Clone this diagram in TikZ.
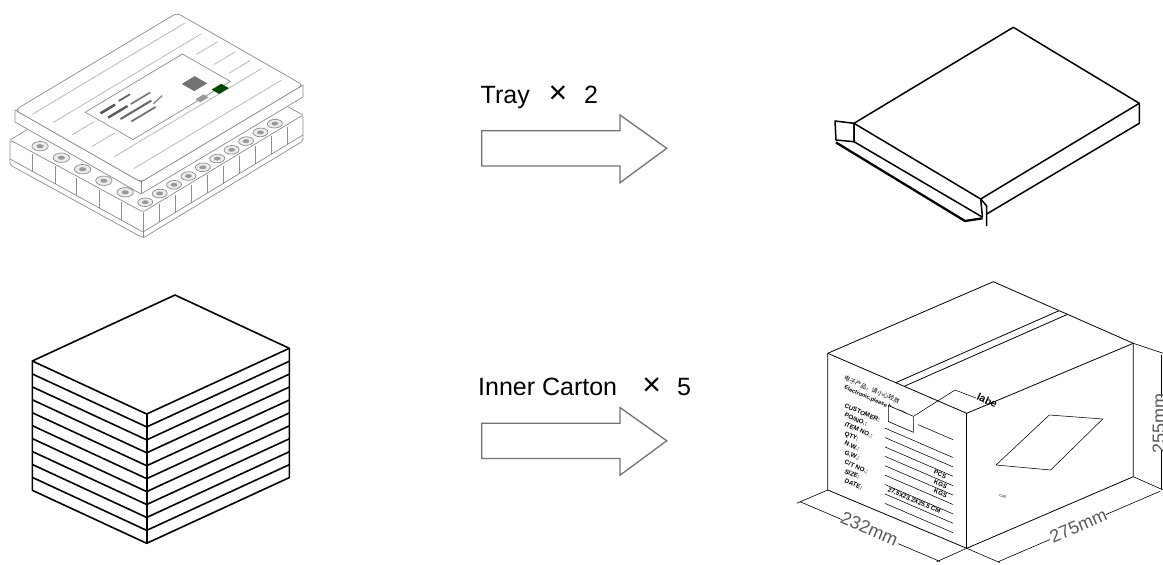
\documentclass[tikz,border=0pt]{standalone}
\usepackage{fontspec}
\setmainfont{Liberation Sans}
\newfontfamily\cjkf{Noto Sans CJK SC}
\usetikzlibrary{calc}
\begin{document}
\begin{tikzpicture}[x=1pt,y=-1pt,
  thickline/.style={line width=1.5pt, line join=round},
  stackline/.style={line width=1.6pt, line join=round},
  cartonline/.style={line width=0.8pt, line join=round},
  dimline/.style={line width=0.6pt},
  trayline/.style={draw=black!45, line width=0.7pt, line join=round},
  arrowshape/.style={draw=black!55, line width=1.3pt, fill=white, line join=miter},
  bigtext/.style={font=\fontsize{25}{30}\selectfont, inner sep=0pt},
  crosstext/.style={font=\fontsize{32}{36}\selectfont, inner sep=0pt},
  labtext/.style={font=\fontsize{6.3}{7}\selectfont\bfseries, inner sep=0pt, rotate=-23.35, anchor=north west},
  dimtext/.style={font=\fontsize{18}{20}\selectfont, text=black!65, inner sep=0pt},
]
\useasboundingbox (0,0) rectangle (1163,565);

% ================= tray picture (top left) =================
\coordinate (L) at (10,140);
\coordinate (F) at (143,212);
\coordinate (R) at (303,115);
\coordinate (K) at (170,43);
\coordinate (Lb) at (10,165);
\coordinate (Fb) at (143,238);
\coordinate (Rb) at (303,141);
\coordinate (Lr) at (10,159);
\coordinate (Fr) at (143,232);
\coordinate (Rr) at (303,135);
\filldraw[trayline, fill=white, rounded corners=2pt] (L)--(F)--(R)--(Rb)--(Fb)--(Lb)--cycle;
\draw[trayline] (L)--(K)--(R);
\draw[trayline] (F)--(Fb);
\draw[trayline] (Lr)--(Fr)--(Rr);
\foreach \t in {0.17,0.34,0.5,0.67,0.84}{
  \draw[trayline] ($(L)!\t!(F)+(0,2)$)--($(Lr)!\t!(Fr)$);
}
\foreach \t in {0.1,0.2,0.3,0.4,0.5,0.6,0.7,0.8,0.9}{
  \draw[trayline] ($(F)!\t!(R)+(0,2)$)--($(Fr)!\t!(Rr)$);
}
% pockets on the base top
\begin{scope}[shift={(10,140)}, x={(133pt,-72pt)}, y={(160pt,97pt)}]
  \foreach \u in {0.16,0.32,0.48,0.64,0.8}{
    \draw[trayline, fill=black!8] (\u,0.055) ellipse [x radius=0.045, y radius=0.035];
    \fill[black!40] (\u,0.055) ellipse [x radius=0.02, y radius=0.015];
  }
  \foreach \v in {0.06,0.15,0.24,0.33,0.42,0.51,0.6,0.69,0.78,0.87}{
    \draw[trayline, fill=black!8] (0.945,\v) ellipse [x radius=0.04, y radius=0.033];
    \fill[black!40] (0.945,\v) ellipse [x radius=0.018, y radius=0.015];
  }
\end{scope}
% lid sides
\filldraw[trayline, fill=white] (15,110)--(15,122)--(141,194)--(303,97)--(303,85)--(141,182)--cycle;
\draw[trayline] (141,182)--(141,194);
% lid top
\begin{scope}[shift={(15,110)}, x={(162pt,97pt)}, y={(126pt,-72pt)}]
  \filldraw[trayline, fill=white, rounded corners=4pt] (0,0)--(1,0)--(1,1)--(0,1)--cycle;
  \draw[trayline, black!30] (0.03,0.1)--(0.97,0.1);
  \draw[trayline, black!30] (0.05,0.24)--(0.96,0.24);
  \draw[trayline, black!30] (0.05,0.72)--(0.96,0.72);
  \draw[trayline, black!30] (0.05,0.88)--(0.96,0.88);
  \draw[trayline, black!30] (0.04,0.4)--(0.18,0.4);
  \draw[trayline, black!30] (0.04,0.56)--(0.18,0.56);
  \draw[trayline, black!30] (0.84,0.36)--(0.97,0.36);
  \draw[trayline, black!30] (0.84,0.5)--(0.97,0.5);
  \draw[trayline, black!30] (0.84,0.62)--(0.97,0.62);
  \draw[trayline] (0.2,0.3)--(0.8,0.3)--(0.8,0.68)--(0.2,0.68)--cycle;
  \draw[black!65, line width=2.6pt] (0.24,0.37)--(0.33,0.37);
  \draw[black!60, line width=1.8pt] (0.36,0.36)--(0.43,0.36);
  \draw[black!65, line width=2.4pt] (0.24,0.43)--(0.36,0.43);
  \draw[black!55, line width=1.6pt] (0.38,0.43)--(0.5,0.43);
  \draw[black!60, line width=2pt] (0.27,0.49)--(0.46,0.49);
  \draw[black!55, line width=1.8pt] (0.29,0.55)--(0.44,0.55);
  \draw[black!50, line width=1.2pt] (0.45,0.52)--(0.52,0.5);
  \fill[black!55] (0.64,0.5)--(0.72,0.5)--(0.72,0.6)--(0.64,0.6)--cycle;
  \fill[black!55!green!60!black] (0.7,0.66)--(0.76,0.66)--(0.76,0.72)--(0.7,0.72)--cycle;
  \fill[black!40] (0.6,0.66)--(0.65,0.66)--(0.65,0.7)--(0.6,0.7)--cycle;
\end{scope}

% ================= arrows and texts =================
\draw[arrowshape] (481.7,130.7)--(620,130.7)--(620,115)--(666.7,148.3)--(620,182.7)--(620,166)--(481.7,166)--cycle;
\draw[arrowshape] (481.7,423.2)--(620,423.2)--(620,407.5)--(666.7,440.8)--(620,475.2)--(620,458.5)--(481.7,458.5)--cycle;
\node[bigtext, anchor=base west] (tray) at (480.5,103.3) {Tray};
\node[crosstext, anchor=center] (trayx) at (558,95) {×};
\node[bigtext, anchor=base west] (trayn) at (584,103.3) {2};
\node[bigtext, anchor=base west] (inner) at (478,395) {Inner Carton};
\node[crosstext, anchor=center] (innerx) at (651.7,386.7) {×};
\node[bigtext, anchor=base west] (innern) at (677,395) {5};

% ================= tray box (top right) =================
\draw[thickline] (854,123.3)--(1013.3,27.3)--(1139.3,103.3)--(980.7,199)--cycle;
\draw[thickline] (1139.3,103.3)--(1139.3,123.3)--(986.7,214);
\draw[thickline] (854,123.3)--(854,141.7)--(981.7,216.7);
\draw[thickline] (980.7,199)--(982.5,217.5);
\draw[thickline] (980.7,199)--(986.7,206)--(986.7,226);
\draw[thickline] (835,121)--(854,123.3)--(854,141.7)--(836,140)--cycle;
\draw[line width=2.3pt, line join=round] (836,142.5)--(965,221)--(982.5,218.3);

% ================= stack (bottom left) =================
\coordinate (ST) at (175,295);
\coordinate (SL) at (32.3,361);
\coordinate (SR) at (289.3,348.3);
\coordinate (SF) at (146.7,414);
\draw[stackline] (SL)--(ST)--(SR)--($(SR)+(0,129.3)$)--($(SF)+(0,129.3)$)--($(SL)+(0,129.3)$)--cycle;
\draw[stackline] (SF)--($(SF)+(0,129.3)$);
\foreach \k in {0,...,9}{
  \draw[stackline] ($(SL)+(0,12.93*\k)$)--($(SF)+(0,12.93*\k)$)--($(SR)+(0,12.93*\k)$);
}

% ================= carton (bottom right) =================
\coordinate (CT) at (993.3,281.7);
\coordinate (CL) at (827.7,353.3);
\coordinate (CR) at (1133.3,343.3);
\coordinate (CF) at (966.7,413.3);
\coordinate (CFb) at (966.7,548.3);
\coordinate (CLb) at (827.7,490);
\coordinate (CRb) at (1133.3,476.7);
\draw[cartonline] (CL)--(CT)--(CR)--(CRb)--(CFb)--(CLb)--cycle;
\draw[cartonline] (CL)--(CF)--(CR);
\draw[cartonline] (CF)--(CFb);
\draw[cartonline] ($(CL)!0.49!(CF)$)--($(CT)!0.47!(CR)$);
\draw[cartonline] ($(CL)!0.55!(CF)$)--($(CT)!0.53!(CR)$);
% label
\node[labtext, font=\fontsize{6}{7}\selectfont\cjkf] (cn) at (845.5,375) {电子产品，请小心轻放};
\node[labtext, font=\fontsize{5.6}{7}\selectfont\bfseries] (en) at (845.5,385) {Electronic,please be care.};
\node[labtext] (r1) at (845.7,403) {CUSTOMER:};
\node[labtext] (r2) at (845.7,412.4) {PO/NO.:};
\node[labtext] (r3) at (845.7,421.8) {ITEM NO.:};
\node[labtext] (r4) at (845.7,431.2) {QTY:};
\node[labtext] (r5) at (845.7,440.6) {N.W.:};
\node[labtext] (r6) at (845.7,450) {G.W.:};
\node[labtext] (r7) at (845.7,459.4) {C/T NO.:};
\node[labtext] (r8) at (845.7,468.8) {SIZE:};
\node[labtext] (r9) at (845.7,478.2) {DATE:};
\node[labtext] (pcs) at (935,469.5) {PCS};
\node[labtext] (kg1) at (935,479) {KGS};
\node[labtext] (kg2) at (935,488.4) {KGS};
\node[labtext] (size) at (889,487) {27.5X23.2X25.5 CM};
\foreach \y in {403,412.4,421.8,431.2,440.6,450,459.4,468.8,478.2}{
  \draw[line width=0.55pt] ({885},{\y+8.3+(885-846)*0.4317})--({953},{\y+8.3+(953-846)*0.4317});
}
\draw[line width=0.55pt] (918,{393.5+(918-846)*0.4317})--(953,{393.5+(953-846)*0.4317});
\filldraw[line width=0.6pt, fill=white] (888.3,405.5)--(913.3,416.3)--(913.3,432.3)--(888.3,421.5)--cycle;
\coordinate (ld1) at (955,390);
\coordinate (ld2) at (976,398);
\draw[line width=0.55pt] (914,416)--(ld1)--(ld2);
\node[font=\fontsize{10.5}{12}\selectfont\bfseries, inner sep=0pt, rotate=-25, anchor=west] (labe) at (977.5,396) {labe};
\draw[line width=0.55pt] (1049.3,415)--(1102.7,419)--(1050.7,470)--(996,465)--cycle;
\node[font=\fontsize{3.5}{4}\selectfont, inner sep=0pt, rotate=-15] (cae) at (1003,496.5) {CAE};
% dimensions
\coordinate (e1) at (796.7,503.3);
\coordinate (e2) at (936.7,561.7);
\coordinate (e3) at (1000,562.7);
\coordinate (e4) at (1163.3,490);
\coordinate (e5) at (1163.3,353.3);
\draw[dimline] (CLb)--(e1);
\draw[dimline] (CFb)--(e2);
\draw[dimline] (CFb)--(e3);
\draw[dimline] (CRb)--(e4);
\draw[dimline] (CR)--(e5);
\draw[dimline] (800,501.7)--(841.7,519.5);
\draw[dimline] (898.3,543.7)--(940,561.5);
\node[dimtext, rotate=-23.3] (d232) at (869.5,528.5) {232mm};
\draw[dimline] (998.3,561.7)--(1050,539.5);
\draw[dimline] (1106,514.5)--(1160,491.3);
\node[dimtext, rotate=23.3] (d275) at (1078.3,525.5) {275mm};
\draw[dimline] (1161,355)--(1161,396.7);
\draw[dimline] (1161,450)--(1161,488.5);
\node[dimtext, rotate=90, anchor=base] (d255) at (1165,423.3) {255mm};
\end{tikzpicture}
\end{document}
